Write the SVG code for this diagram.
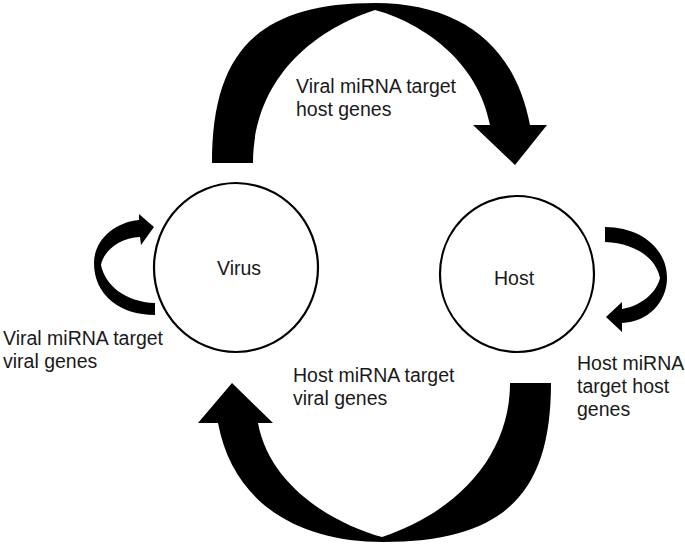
<svg xmlns="http://www.w3.org/2000/svg" width="685" height="548" viewBox="0 0 685 548">
<style>
.lbl{font-family:"Liberation Sans",Arial,sans-serif;font-size:19.5px;fill:#1a1a1a}
.node{fill:#fff;stroke:#000;stroke-width:2.2}
.arr{fill:#000;stroke:none}
</style>
<rect width="685" height="548" fill="#fff"/>
<g id="connectors">
<path id="arrow-top" class="arr" d="M212,163 C212,55 255,3 375,3 C460,3 515,45 530,125 L547,125 L515,165 L473,125 L490,125 C478,60 420,22 375,10 C300,35 253,90 253,163 Z"/>
<path id="arrow-bottom" class="arr" d="M551,383 C551,490 508,542 383,542 C298,542 233,503 218,423 L198,423 L232,383 L273,423 L258,423 C270,488 337,525 382,537 C457,512 510,456 510,383 Z"/>
<path id="arrow-left" class="arr" d="M155,315 C120,315 94,295 94,263 C94,240 115,222 139,220 L139,214 L154,227 L141,245 L140,237 C120,238 104,250 101,265 C105,285 125,302 155,303 Z"/>
<path id="arrow-right" class="arr" d="M605,227 C640,227 667,248 667,278 C667,302 648,322 622,323 L622,332 L606,317 L622,302 L622,309 C640,306 656,294 660,278 C656,258 635,243 605,242 Z"/>
</g>
<g id="virus">
<ellipse class="node" cx="236" cy="267.5" rx="82" ry="84.5"/>
<text class="lbl" x="217" y="275">Virus</text>
</g>
<g id="host">
<ellipse class="node" cx="517" cy="274" rx="77" ry="78"/>
<text class="lbl" x="494" y="285">Host</text>
</g>
<g id="label-top">
<text class="lbl" x="296" y="93">Viral miRNA target</text>
<text class="lbl" x="296" y="116">host genes</text>
</g>
<g id="label-bottom">
<text class="lbl" x="293" y="382">Host miRNA target</text>
<text class="lbl" x="293" y="405">viral genes</text>
</g>
<g id="label-left">
<text class="lbl" x="3" y="345">Viral miRNA target</text>
<text class="lbl" x="3" y="368">viral genes</text>
</g>
<g id="label-right">
<text class="lbl" x="577" y="370">Host miRNA</text>
<text class="lbl" x="577" y="393">target host</text>
<text class="lbl" x="577" y="416">genes</text>
</g>
</svg>
